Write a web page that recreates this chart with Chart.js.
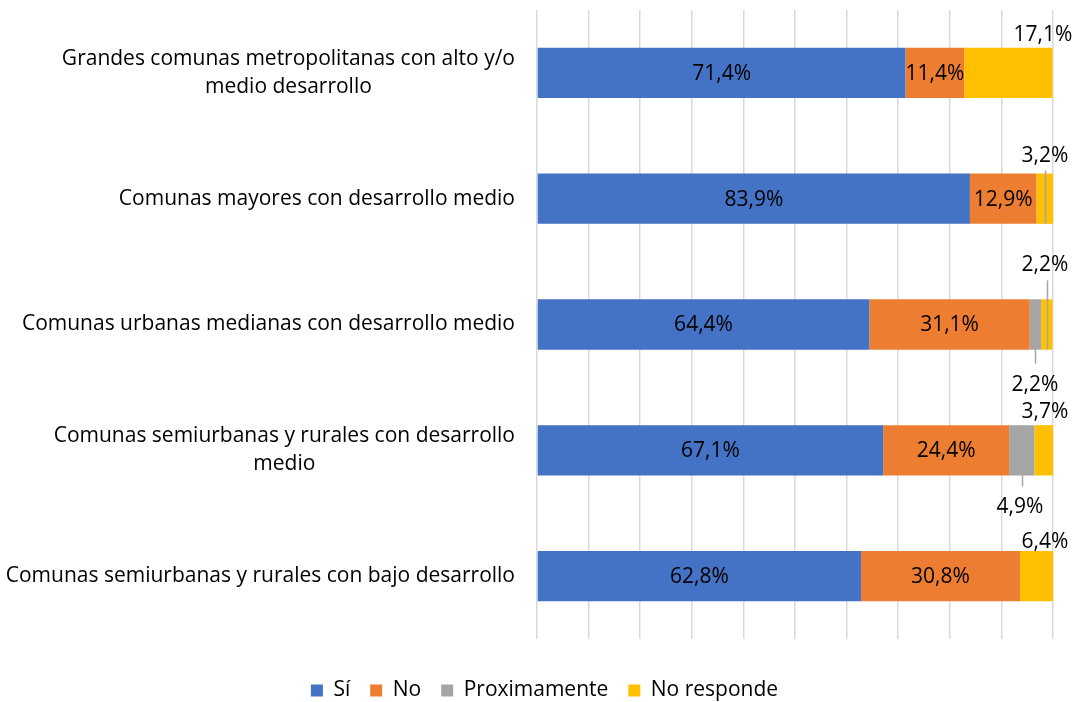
<!DOCTYPE html>
<html>
<head>
<meta charset="utf-8">
<script src="https://cdn.jsdelivr.net/npm/chart.js@4/dist/chart.umd.min.js"></script>
<style>
  html, body { margin: 0; background: #fff; }
  #wrap { width: 1082px; height: 702px; }
</style>
</head>
<body>
<div id="wrap"><canvas id="chart"></canvas></div>
<script>
const categories = [
  ["Grandes comunas metropolitanas con alto y/o", "medio desarrollo"],
  ["Comunas mayores con desarrollo medio"],
  ["Comunas urbanas medianas con desarrollo medio"],
  ["Comunas semiurbanas y rurales con desarrollo", "medio"],
  ["Comunas semiurbanas y rurales con bajo desarrollo"]
];
const seriesNames = ["Sí", "No", "Proximamente", "No responde"];
const si = [71.4, 83.9, 64.4, 67.1, 62.8];
const no = [11.4, 12.9, 31.1, 24.4, 30.8];
const proximamente = [0, 0, 2.2, 4.9, 0];
const noResponde = [17.1, 3.2, 2.2, 3.7, 6.4];
const colours = ["#4472C4", "#ED7D31", "#A5A5A5", "#FFC000"];

// labels placed outside the bar: "row,dataset" -> where to put them
const outside = {
  "0,3": { dx: -10, side: "above", gap: 13, line: false },
  "1,3": { dx: -8, side: "above", gap: 18, line: true },
  "2,3": { dx: -8, side: "above", gap: 34, line: true },
  "2,2": { dx: -18, side: "below", gap: 35, line: true },
  "3,3": { dx: -8, side: "above", gap: 13, line: false },
  "3,2": { dx: -33, side: "below", gap: 32, line: true },
  "4,3": { dx: -8, side: "above", gap: 9, line: false }
};

const FONT = "'Open Sans', sans-serif";
const SIZE = 21;

function fmt(v) {
  return v.toFixed(1).replace(".", ",") + "%";
}

const labelPlugin = {
  id: "labelPlugin",
  afterLayout(chart) {
    // nudge the legend to where the original has it
    chart.legend.top += 9;
    chart.legend.bottom += 9;
    chart.legend.left += 18;
    chart.legend.right += 18;
  },
  afterDatasetsDraw(chart) {
    let ctx = chart.ctx;
    let xScale = chart.scales.x;
    let right = xScale.getPixelForValue(100);
    ctx.save();
    ctx.font = SIZE + "px " + FONT;
    ctx.fillStyle = "#000";
    ctx.textBaseline = "middle";
    ctx.textAlign = "center";
    chart.data.datasets.forEach(function(ds, d) {
      let meta = chart.getDatasetMeta(d);
      meta.data.forEach(function(bar, i) {
        let v = ds.data[i];
        if (!v) return;
        let top = bar.y - bar.height / 2;
        let bottom = bar.y + bar.height / 2;
        let o = outside[i + "," + d];
        if (!o) {
          ctx.fillText(fmt(v), (bar.x + bar.base) / 2, bar.y + 1);
          return;
        }
        let lx = right + o.dx;
        let ly = o.side == "above" ? top - o.gap : bottom + o.gap;
        if (o.line) {
          let sx = Math.round((bar.x + bar.base) / 2) + 0.5;
          ctx.strokeStyle = "#A6A6A6";
          ctx.lineWidth = 1.5;
          ctx.beginPath();
          if (o.side == "above") {
            ctx.moveTo(sx, ly + 15);
            ctx.lineTo(sx, bottom);
          } else {
            ctx.moveTo(sx, top);
            ctx.lineTo(sx, ly - 21);
          }
          ctx.stroke();
        }
        ctx.fillText(fmt(v), lx, ly);
      });
    });

    // category labels, each block centred on its widest line, right edge at axis - 22
    let yScale = chart.scales.y;
    let edge = chart.chartArea.left - 22;
    let lineH = 28;
    categories.forEach(function(lines, i) {
      let w = Math.max.apply(null, lines.map(l => ctx.measureText(l).width));
      let cx = edge - w / 2;
      let cy = yScale.getPixelForValue(i);
      lines.forEach(function(l, k) {
        ctx.fillText(l, cx, cy + (k - (lines.length - 1) / 2) * lineH);
      });
    });
    ctx.restore();
  }
};

const chart = new Chart(document.getElementById("chart"), {
  type: "bar",
  data: {
    labels: categories,
    datasets: [
      { label: seriesNames[0], data: si, backgroundColor: colours[0] },
      { label: seriesNames[1], data: no, backgroundColor: colours[1] },
      { label: seriesNames[2], data: proximamente, backgroundColor: colours[2] },
      { label: seriesNames[3], data: noResponde, backgroundColor: colours[3] }
    ]
  },
  options: {
    indexAxis: "y",
    responsive: true,
    maintainAspectRatio: false,
    animation: false,
    datasets: {
      bar: { barPercentage: 0.8, categoryPercentage: 0.5, borderSkipped: false }
    },
    layout: { padding: { left: 0, right: 29, top: 10, bottom: 0 } },
    scales: {
      x: {
        stacked: true,
        min: 0,
        max: 100,
        ticks: { display: false, stepSize: 10 },
        grid: { color: "#D9D9D9", lineWidth: 1.5, drawTicks: false },
        border: { display: false },
        afterFit: function(scale) { scale.height = 12; }
      },
      y: {
        stacked: true,
        ticks: { display: false },
        grid: { display: false },
        border: { display: false },
        afterFit: function(scale) { scale.width = 537; }
      }
    },
    plugins: {
      legend: {
        position: "bottom",
        labels: {
          boxWidth: 12,
          boxHeight: 12,
          padding: 20,
          color: "#000",
          font: { size: SIZE, family: FONT }
        }
      },
      tooltip: { enabled: false }
    }
  },
  plugins: [labelPlugin]
});
</script>
</body>
</html>
